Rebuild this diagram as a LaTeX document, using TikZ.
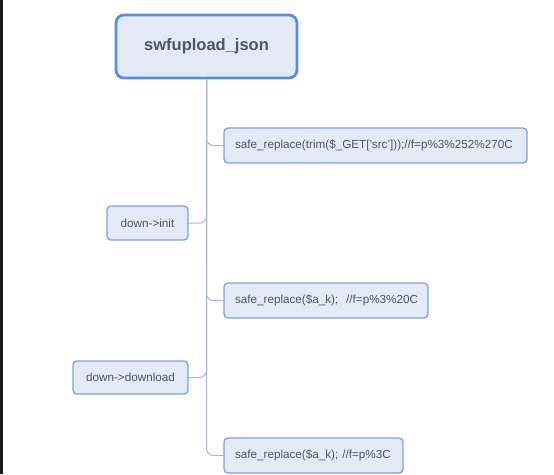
\documentclass[tikz,border=0pt]{standalone}
\usepackage{fontspec}
\setmainfont{Liberation Sans}
\definecolor{boxfill}{HTML}{E3EAF6}
\definecolor{boxline}{HTML}{7BA1DA}
\definecolor{rootline}{HTML}{5A8ED8}
\definecolor{txt}{HTML}{4A5568}
\definecolor{conn}{HTML}{A3BADB}
\begin{document}
\begin{tikzpicture}[x=1pt,y=-1pt,
  leaf/.style={draw=boxline, line width=1.3pt, fill=boxfill, rounded corners=4pt,
    inner sep=0pt, text=txt, font=\fontsize{11.7}{13}\selectfont},
  leftleaf/.style={leaf, inner xsep=11pt, align=left},
  rootbox/.style={draw=rootline, line width=2.8pt, fill=boxfill, rounded corners=8pt,
    inner sep=0pt, text=txt, font=\fontsize{16.5}{19}\selectfont\bfseries},
  link/.style={draw=conn, line width=1pt, rounded corners=7pt}]
\useasboundingbox (0,0) rectangle (554,474);
\fill[black!90] (0,0) rectangle (3,474);
\node[rootbox, minimum width=181pt, minimum height=63pt] (root) at (206.5,46.5) {swfupload\_json};
\node[leftleaf, text width=281pt, minimum height=35pt] (b1) at (375.5,145.5) {\mbox{safe\_replace(trim(\$\_GET['src']));//f=p\%3\%252\%270C}};
\node[leaf, minimum width=81pt, minimum height=34pt] (init) at (147.5,223) {down->init};
\node[leftleaf, text width=182pt, minimum height=35pt] (b2) at (326,300.5) {\mbox{safe\_replace(\$a\_k);\ \ //f=p\%3\%20C}};
\node[leaf, minimum width=115pt, minimum height=33pt] (dl) at (130.5,377.5) {down->download};
\node[leftleaf, text width=157pt, minimum height=35pt] (b3) at (313.5,455.5) {\mbox{safe\_replace(\$a\_k); //f=p\%3C}};
\draw[link] (root.south) |- (b1.west);
\draw[link] (root.south) |- (init.east);
\draw[link] (root.south) |- (b2.west);
\draw[link] (root.south) |- (dl.east);
\draw[link] (root.south) |- (b3.west);
\end{tikzpicture}
\end{document}
